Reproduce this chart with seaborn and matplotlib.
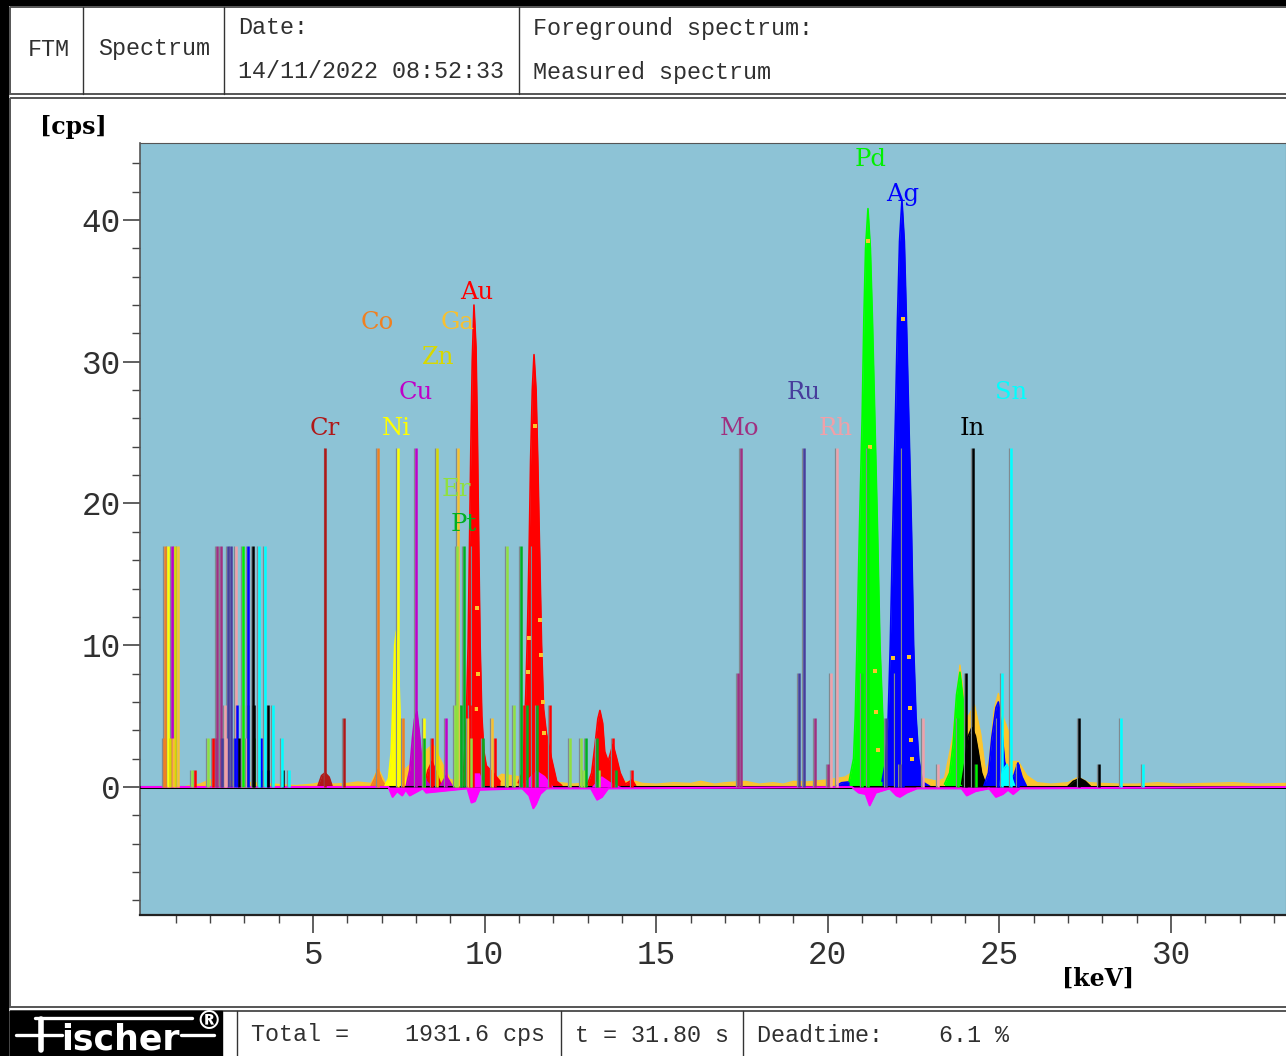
import matplotlib
matplotlib.use("Agg")
import matplotlib.pyplot as plt
import seaborn as sns
from matplotlib.patches import Rectangle
from matplotlib.ticker import FixedLocator, MultipleLocator

# Element marker lines: energy [keV] and height [cps]
CR_KEV = [5.36, 5.90]
CR_CPS = [23.9, 4.87]
CO_KEV = [0.69, 0.66, 6.89, 7.62]
CO_CPS = [17.0, 3.46, 23.9, 4.87]
NI_KEV = [0.78, 7.48, 8.23]
NI_CPS = [17.0, 23.9, 4.87]
CU_KEV = [0.89, 8.00, 8.88]
CU_CPS = [17.0, 23.9, 4.87]
ZN_KEV = [0.98, 0.84, 8.61]
ZN_CPS = [17.0, 3.46, 23.9]
GA_KEV = [1.07, 0.92, 9.22, 9.52, 10.22]
GA_CPS = [17.0, 3.46, 23.9, 4.87, 4.87]
AU_KEV = [1.56, 2.09, 8.47, 9.57, 9.66, 10.30, 11.15, 11.41, 11.91, 13.74, 14.29]
AU_CPS = [1.2, 3.46, 3.46, 5.78, 17.0, 3.46, 5.78, 17.0, 5.78, 3.46, 1.2]
ER_KEV = [1.47, 1.94, 9.14, 9.19, 9.60, 10.65, 10.86, 12.49, 12.81, 12.90, 13.33]
ER_CPS = [1.2, 3.46, 5.78, 17.0, 3.46, 17.0, 5.78, 3.46, 3.46, 1.2, 1.2]
PT_KEV = [8.23, 9.32, 9.40, 9.95, 11.06, 11.24, 11.53, 12.95, 13.28, 13.83]
PT_CPS = [3.46, 5.78, 17.0, 3.46, 17.0, 5.78, 5.78, 3.46, 3.46, 1.2]
MO_KEV = [2.17, 2.20, 2.32, 17.38, 17.47, 19.63, 20.01]
MO_CPS = [3.46, 17.0, 17.0, 8.04, 23.9, 4.87, 1.6]
RU_KEV = [2.35, 2.52, 2.61, 19.16, 19.31, 21.70, 22.10]
RU_CPS = [3.46, 17.0, 17.0, 8.04, 23.9, 4.87, 1.6]
RH_KEV = [2.44, 2.47, 2.76, 2.96, 3.08, 20.09, 20.27, 22.77, 23.21]
RH_CPS = [5.78, 3.46, 17.0, 5.78, 3.46, 8.04, 23.9, 4.87, 1.6]
PD_KEV = [2.96, 3.11, 3.28, 3.48, 21.00, 21.17, 23.79, 24.32]
PD_CPS = [17.0, 5.78, 3.46, 1.2, 8.04, 23.9, 4.87, 1.6]
AG_KEV = [2.73, 2.79, 3.11, 3.48, 3.69, 21.99, 22.19, 24.96, 25.54]
AG_CPS = [3.46, 5.78, 17.0, 3.46, 1.2, 8.04, 23.9, 4.87, 1.6]
IN_KEV = [2.84, 3.25, 3.28, 3.69, 4.13, 24.03, 24.23, 27.32, 27.90]
IN_CPS = [3.46, 17.0, 5.78, 5.78, 1.2, 8.04, 23.9, 4.87, 1.6]
SN_KEV = [3.43, 3.60, 3.83, 4.10, 4.30, 25.08, 25.34, 28.54, 29.18]
SN_CPS = [17.0, 17.0, 5.78, 3.46, 1.2, 8.04, 23.9, 4.87, 1.6]

# Label text, colour, label position
ELEMENT_NAMES = ["Cr", "Co", "Ni", "Cu", "Zn", "Ga", "Au", "Er", "Pt", "Mo", "Ru", "Rh", "Pd", "Ag", "In", "Sn"]
ELEMENT_COLORS = ["#b01818", "#f08020", "#ffff00", "#c000c8", "#d8d800", "#f8c030", "#ff0000", "#90e040",
                  "#00b020", "#a03080", "#483d9c", "#f0a0a8", "#00f000", "#0000ff", "#000000", "#00ffff"]
LABEL_KEV = [5.33, 6.88, 7.43, 7.98, 8.64, 9.20, 9.77, 9.17, 9.40, 17.44, 19.31, 20.24, 21.24, 22.19, 24.20, 25.34]
LABEL_CPS = [25.3, 32.8, 25.3, 27.8, 30.3, 32.8, 34.9, 21.0, 18.5, 25.3, 27.8, 25.3, 44.3, 41.8, 25.3, 27.8]

# Measured peaks
AU1_KEV = [9.33, 9.40, 9.47, 9.52, 9.56, 9.60, 9.64, 9.69, 9.75, 9.79, 9.83, 9.87, 9.92, 9.98, 10.05, 10.25, 10.45]
AU1_CPS = [0.3, 1.5, 5.0, 10.0, 17.0, 24.0, 30.0, 34.0, 31.0, 25.0, 17.0, 10.0, 5.0, 2.5, 1.5, 1.0, 0.4]
AU2_KEV = [10.98, 11.10, 11.15, 11.20, 11.25, 11.30, 11.34, 11.39, 11.44, 11.50, 11.55, 11.60, 11.66, 11.72, 11.80, 11.95, 12.10, 12.25]
AU2_CPS = [0.3, 1.0, 3.0, 6.5, 11.0, 17.0, 23.0, 28.0, 30.5, 28.0, 23.0, 17.0, 10.0, 5.5, 3.8, 2.0, 0.4, 0.1]
AU3_KEV = [13.00, 13.12, 13.22, 13.30, 13.36, 13.44, 13.50, 13.60, 13.74, 13.85, 13.95, 14.10, 14.30, 14.40]
AU3_CPS = [0.2, 1.0, 3.0, 4.8, 5.4, 4.5, 2.5, 1.8, 3.0, 2.0, 1.0, 0.2, 0.5, 0.1]
AU4_KEV = [8.25, 8.35, 8.47, 8.60, 8.72]
AU4_CPS = [0.2, 1.2, 1.8, 1.0, 0.2]
NI_PEAK_KEV = [7.10, 7.20, 7.28, 7.33, 7.38, 7.43, 7.50, 7.55, 7.60, 7.70]
NI_PEAK_CPS = [0.1, 0.6, 2.5, 6.0, 10.0, 11.0, 8.0, 4.0, 1.5, 0.3]
CO_PEAK_KEV = [6.70, 6.80, 6.89, 7.00, 7.10]
CO_PEAK_CPS = [0.1, 0.6, 1.2, 0.5, 0.1]
CU_PEAK_KEV = [7.72, 7.82, 7.90, 7.96, 8.03, 8.10, 8.18, 8.30, 8.42]
CU_PEAK_CPS = [0.1, 1.2, 3.5, 4.8, 5.3, 3.8, 1.5, 0.4, 0.1]
CU2_PEAK_KEV = [8.72, 8.88, 9.05]
CU2_PEAK_CPS = [0.1, 0.8, 0.1]
ZN_PEAK_KEV = [8.40, 8.52, 8.64, 8.75, 8.88]
ZN_PEAK_CPS = [0.2, 1.0, 1.8, 1.0, 0.2]
CR_PEAK_KEV = [5.15, 5.25, 5.35, 5.47, 5.55]
CR_PEAK_CPS = [0.1, 0.8, 1.0, 0.7, 0.1]
BLUE_BASE_KEV = [20.20, 20.40, 20.75, 21.00, 21.60, 22.60, 23.00]
BLUE_BASE_CPS = [0.0, 0.3, 0.4, 0.2, 0.4, 0.6, 0.0]
PD_PEAK_KEV = [20.62, 20.75, 20.80, 20.85, 20.92, 21.00, 21.05, 21.10, 21.17, 21.24, 21.30, 21.37, 21.45, 21.52, 21.60, 21.68, 21.80]
PD_PEAK_CPS = [0.4, 2.0, 5.0, 10.0, 18.0, 26.0, 33.0, 38.0, 40.8, 38.0, 33.0, 26.0, 18.0, 10.0, 5.0, 2.0, 0.4]
AG_PEAK_KEV = [21.58, 21.70, 21.76, 21.82, 21.89, 21.97, 22.03, 22.09, 22.16, 22.23, 22.29, 22.36, 22.44, 22.50, 22.57, 22.65, 22.76]
AG_PEAK_CPS = [0.4, 2.0, 5.0, 10.0, 18.0, 26.0, 33.0, 38.5, 41.4, 38.5, 33.0, 26.0, 18.0, 10.0, 5.0, 2.0, 0.4]
PD2_PEAK_KEV = [23.40, 23.55, 23.65, 23.75, 23.85, 23.95, 24.02, 24.10, 24.25]
PD2_PEAK_CPS = [0.2, 1.0, 3.0, 6.5, 8.1, 6.0, 3.0, 1.0, 0.2]
IN_PEAK_KEV = [23.90, 24.00, 24.08, 24.20, 24.30, 24.38, 24.48, 24.60]
IN_PEAK_CPS = [0.2, 1.8, 3.5, 4.2, 3.6, 2.5, 1.0, 0.2]
AG2_PEAK_KEV = [24.55, 24.68, 24.78, 24.90, 24.97, 25.05, 25.15, 25.28, 25.42, 25.54, 25.66, 25.78]
AG2_PEAK_CPS = [0.1, 1.0, 3.5, 5.6, 6.0, 4.5, 1.8, 0.6, 0.8, 1.7, 0.7, 0.1]
SN_PEAK_KEV = [25.00, 25.10, 25.22, 25.34, 25.44]
SN_PEAK_CPS = [0.1, 1.2, 1.6, 0.8, 0.1]
IN2_PEAK_KEV = [27.00, 27.15, 27.35, 27.50, 27.65]
IN2_PEAK_CPS = [0.05, 0.4, 0.6, 0.4, 0.05]

# Gold trace: mostly noise, follows the peaks at the top
GOLD_KEV = [0.0, 1.2, 1.7, 2.0, 4.5, 5.0, 5.3, 5.6, 6.0, 6.3, 6.7, 6.9, 7.1, 7.3, 8.2, 8.5, 8.7, 9.0, 10.3, 10.5, 12.2, 12.6,
            13.0, 14.4, 14.6, 15.0, 15.5, 16.0, 16.3, 16.7, 17.0, 17.6, 18.0, 18.4, 18.7, 19.0, 19.4, 20.0, 20.5, 20.7,
            21.8, 22.6, 22.8, 23.2, 23.4, 23.65, 23.85, 24.02, 24.10, 24.27, 24.45, 24.6, 24.7, 24.85, 24.97, 25.1, 25.25,
            25.35, 25.55, 25.8, 26.1, 26.5, 27.0, 27.3, 27.6, 28.0, 28.5, 29.0, 29.6, 30.2, 31.0, 31.8, 32.5, 33.35]
GOLD_CPS = [0.0, 0.0, 0.2, 0.5, 0.1, 0.2, 0.35, 0.2, 0.25, 0.35, 0.25, 1.3, 0.3, 0.4, 2.4, 3.0, 2.0, 0.5, 0.5, 0.9, 0.3, 0.2,
            0.3, 0.4, 0.25, 0.2, 0.3, 0.25, 0.4, 0.2, 0.3, 0.4, 0.2, 0.3, 0.2, 0.4, 0.35, 0.5, 0.7, 1.0,
            1.0, 1.2, 0.6, 0.4, 0.6, 3.6, 8.6, 5.0, 5.0, 5.8, 3.8, 1.0, 1.8, 5.5, 6.6, 5.0, 4.0,
            1.8, 1.8, 0.8, 0.3, 0.2, 0.3, 0.7, 0.3, 0.25, 0.2, 0.2, 0.3, 0.2, 0.25, 0.3, 0.2, 0.25]

# Yellow flecks on top of the tall peaks
SPOT_KEV = [9.78, 9.74, 9.80, 11.47, 11.60, 11.26, 11.30, 11.64, 11.70, 11.73, 21.17, 21.22, 21.38, 21.40, 21.46,
            21.90, 22.20, 22.37, 22.40, 22.42, 22.44]
SPOT_CPS = [12.6, 5.5, 8.0, 25.5, 11.8, 8.1, 10.5, 9.3, 6.0, 3.8, 38.5, 24.0, 8.2, 5.3, 2.6,
            9.1, 33.0, 9.2, 5.6, 3.3, 2.0]

# Difference trace, dips below zero
DIFF_KEV = [0.0, 7.2, 7.32, 7.45, 7.6, 7.7, 7.82, 8.2, 8.3, 9.5, 9.62, 9.72, 9.85, 11.1, 11.3, 11.42, 11.5, 11.62, 11.8,
            13.1, 13.28, 13.42, 13.6, 20.7, 20.9, 21.1, 21.22, 21.4, 21.8, 22.0, 22.1, 22.3, 22.6, 23.9, 24.05, 24.3,
            24.7, 24.9, 25.1, 25.25, 25.4, 25.6, 33.35]
DIFF_CPS = [0.0, 0.0, -0.7, -0.3, -0.6, -0.2, -0.6, -0.1, -0.4, -0.1, -1.1, -1.0, -0.2, -0.1, -0.6, -1.5, -1.2, -0.5, -0.1,
            -0.1, -0.9, -0.7, -0.1, 0.0, -0.4, -0.5, -1.3, -0.4, -0.1, -0.6, -0.7, -0.4, -0.1, -0.1, -0.6, -0.3,
            -0.1, -0.7, -0.5, -0.2, -0.5, -0.1, 0.0]
# Same trace above zero at the foot of the gold peaks
BUMP1_KEV = [9.50, 9.65, 9.85, 10.00]
BUMP1_CPS = [0.0, 1.0, 1.0, 0.0]
BUMP2_KEV = [11.00, 11.20, 11.50, 11.75, 12.00]
BUMP2_CPS = [0.0, 0.5, 1.2, 0.8, 0.0]
BUMP3_KEV = [13.10, 13.40, 13.70, 14.00]
BUMP3_CPS = [0.0, 0.8, 0.3, 0.0]

# Peaks in drawing order: keV, cps, colour
PEAKS = [(BLUE_BASE_KEV, BLUE_BASE_CPS, "#0000ff"), (CR_PEAK_KEV, CR_PEAK_CPS, "#b01818"), (CO_PEAK_KEV, CO_PEAK_CPS, "#f08020"),
         (NI_PEAK_KEV, NI_PEAK_CPS, "#ffff00"), (ZN_PEAK_KEV, ZN_PEAK_CPS, "#e8e000"),
         (AU4_KEV, AU4_CPS, "#ff0000"), (CU_PEAK_KEV, CU_PEAK_CPS, "#c000c8"),
         (CU2_PEAK_KEV, CU2_PEAK_CPS, "#c000c8"), (AU1_KEV, AU1_CPS, "#ff0000"), (AU2_KEV, AU2_CPS, "#ff0000"),
         (AU3_KEV, AU3_CPS, "#ff0000"), (PD_PEAK_KEV, PD_PEAK_CPS, "#00ff00"), (AG_PEAK_KEV, AG_PEAK_CPS, "#0000ff"),
         (PD2_PEAK_KEV, PD2_PEAK_CPS, "#00ff00"), (IN_PEAK_KEV, IN_PEAK_CPS, "#000000"),
         (AG2_PEAK_KEV, AG2_PEAK_CPS, "#0000ff"), (SN_PEAK_KEV, SN_PEAK_CPS, "#00ffff"),
         (IN2_PEAK_KEV, IN2_PEAK_CPS, "#000000")]

ELEMENT_LINES = [(CR_KEV, CR_CPS), (CO_KEV, CO_CPS), (NI_KEV, NI_CPS), (CU_KEV, CU_CPS), (ZN_KEV, ZN_CPS),
                 (GA_KEV, GA_CPS), (AU_KEV, AU_CPS), (ER_KEV, ER_CPS), (PT_KEV, PT_CPS), (MO_KEV, MO_CPS),
                 (RU_KEV, RU_CPS), (RH_KEV, RH_CPS), (PD_KEV, PD_CPS), (AG_KEV, AG_CPS), (IN_KEV, IN_CPS),
                 (SN_KEV, SN_CPS)]

X_TICKS = [5, 10, 15, 20, 25, 30]
X_MINOR = [k for k in range(1, 34) if k % 5]
Y_TICKS = [0, 10, 20, 30, 40]

sns.set_theme(style="white")
plt.rcParams["font.family"] = ["Liberation Mono", "DejaVu Sans"]

W, H = 1286, 1056
fig = plt.figure(figsize=(W / 100, H / 100), dpi=100, facecolor="white")

# page furniture in pixel coordinates
page = fig.add_axes([0, 0, 1, 1])
page.set_xlim(0, W)
page.set_ylim(H, 0)
page.axis("off")
EDGE = "#555555"
page.add_patch(Rectangle((0, 0), W, 5, color="black"))
page.add_patch(Rectangle((0, 0), 8, H, color="black"))
page.add_patch(Rectangle((10, 7), W, 87, fill=False, ec=EDGE, lw=1.4))
page.add_patch(Rectangle((10, 98), W, 909, fill=False, ec=EDGE, lw=1.4))
page.add_patch(Rectangle((10, 1011), W, 60, fill=False, ec=EDGE, lw=1.4))
for px in [83, 224, 519]:
    page.plot([px, px], [7, 94], color="#333333", lw=1)
for px in [237, 561, 743]:
    page.plot([px, px], [1011, H], color="#333333", lw=1)

TXT = dict(fontsize=16.85, va="center", ha="left", color="#303030")
page.text(28, 49, "FTM", **TXT)
page.text(98, 49, "Spectrum", **TXT)
page.text(238, 28, "Date:", **TXT)
page.text(238, 72, "14/11/2022 08:52:33", **TXT)
page.text(533, 28, "Foreground spectrum:", **TXT)
page.text(533, 72, "Measured spectrum", **TXT)
page.text(251, 1035, "Total =    1931.6 cps", **TXT)
page.text(575, 1035, "t = 31.80 s", **TXT)
page.text(757, 1035, "Deadtime:    6.1 %", **TXT)

page.text(73, 127, "[cps]", fontsize=17, fontweight="bold", family="DejaVu Serif", ha="center", va="center", color="black")
page.text(1098, 979, "[keV]", fontsize=17, fontweight="bold", family="DejaVu Serif", ha="center", va="center", color="black")

# logo
page.add_patch(Rectangle((10, 1011), 212, 45, color="black"))
page.plot([35, 192], [1018, 1018], color="white", lw=2.4)
page.plot([16, 62], [1035, 1035], color="white", lw=2.4)
page.plot([181, 214], [1035, 1035], color="white", lw=2.4)
page.plot([41, 41], [1019, 1050], color="white", lw=4)
page.text(120, 1039, "ischer", fontsize=25, fontweight="bold", family="DejaVu Sans", color="white", ha="center", va="center")
page.text(209, 1022, "®", fontsize=19, fontweight="bold", family="DejaVu Sans", color="white", ha="center", va="center")

# spectrum axes
ax = fig.add_axes([140 / W, 1 - 915 / H, (W - 140) / W, (915 - 143) / H], facecolor="#8DC3D6")
ax.set_xlim(-0.04, 33.35)
ax.set_ylim(-9.03, 45.43)

ax.fill_between(GOLD_KEV, GOLD_CPS, color="#fcc52c", lw=0, zorder=2)
sns.lineplot(x=GOLD_KEV, y=GOLD_CPS, color="#fcc52c", lw=1, errorbar=None, ax=ax, zorder=2)

for kev, cps, color in PEAKS:
    ax.fill_between(kev, cps, color=color, lw=0, zorder=3)
    sns.lineplot(x=kev, y=cps, color=color, lw=1.2, errorbar=None, ax=ax, zorder=3)

sns.scatterplot(x=SPOT_KEV, y=SPOT_CPS, color="#fcc52c", marker="s", s=12, linewidth=0, ax=ax, zorder=4)

# black zero line with the magenta difference trace over it
ax.axhline(0, color="black", lw=2.2, zorder=5)
ax.fill_between(DIFF_KEV, DIFF_CPS, color="#ff00ff", lw=0, zorder=6)
sns.lineplot(x=DIFF_KEV, y=DIFF_CPS, color="#ff00ff", lw=1.4, errorbar=None, ax=ax, zorder=6)
for kev, cps in [(BUMP1_KEV, BUMP1_CPS), (BUMP2_KEV, BUMP2_CPS), (BUMP3_KEV, BUMP3_CPS)]:
    ax.fill_between(kev, cps, color="#ff00ff", lw=0, zorder=6)

for (kev, cps), color in zip(ELEMENT_LINES, ELEMENT_COLORS):
    ax.vlines([k - 0.05 for k in kev], 0, cps, color="#808a90", lw=0.9, zorder=7)
    ax.vlines(kev, 0, cps, color=color, lw=1.8, zorder=8)

for name, kev, cps, color in zip(ELEMENT_NAMES, LABEL_KEV, LABEL_CPS, ELEMENT_COLORS):
    ax.text(kev, cps, name, color=color, family="DejaVu Serif", fontsize=17.5, ha="center", va="center", zorder=9)

ax.xaxis.set_major_locator(FixedLocator(X_TICKS))
ax.xaxis.set_minor_locator(FixedLocator(X_MINOR))
ax.yaxis.set_major_locator(FixedLocator(Y_TICKS))
ax.yaxis.set_minor_locator(MultipleLocator(2))
ax.tick_params(axis="x", which="major", bottom=True, length=13, width=1.2, pad=5, labelsize=23.5, color="#444444", labelcolor="#303030")
ax.tick_params(axis="x", which="minor", bottom=True, length=6, width=1, color="#444444")
ax.tick_params(axis="y", which="major", left=True, length=12.5, width=1.2, pad=1.5, labelsize=23.5, color="#444444", labelcolor="#303030")
ax.tick_params(axis="y", which="minor", left=True, length=5.5, width=1, color="#444444")
for side in ["top", "right"]:
    ax.spines[side].set_color("#555555")
    ax.spines[side].set_linewidth(0.8)
ax.spines["left"].set_color("#555555")
ax.spines["left"].set_linewidth(1.2)
ax.spines["bottom"].set_color("#222222")
ax.spines["bottom"].set_linewidth(1.6)

fig.savefig("out.png", dpi=100, facecolor="white")
